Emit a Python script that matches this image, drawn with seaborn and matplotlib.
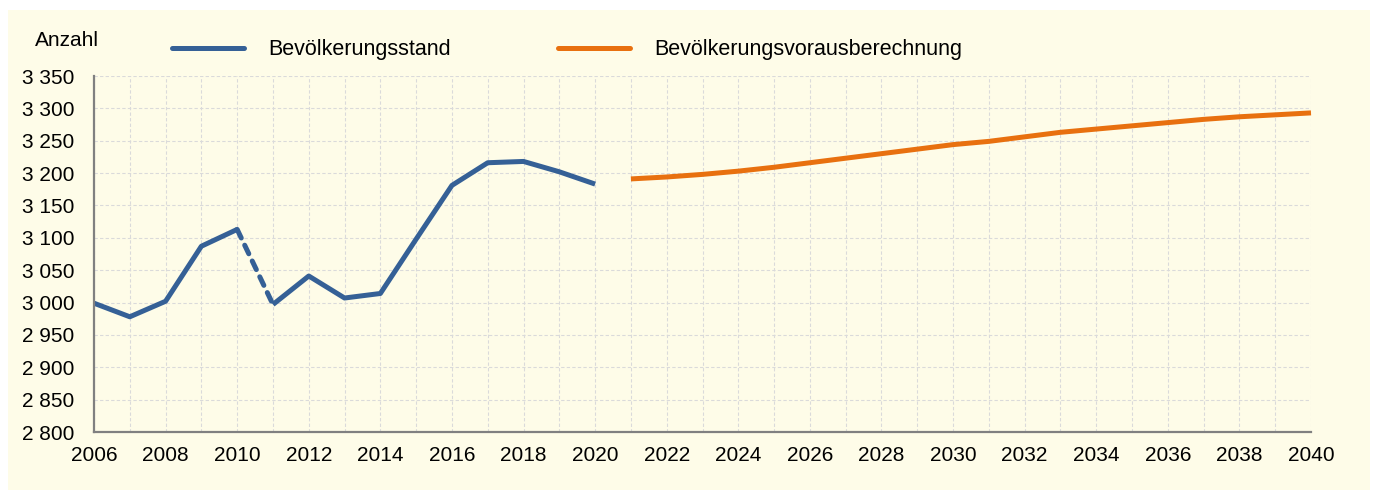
import matplotlib
matplotlib.use("Agg")
import matplotlib.pyplot as plt
import matplotlib.patches as mpatches
import seaborn as sns
import pandas as pd

# Bevölkerungsstand (Tausend), 2006-2020
jahre_stand = [2006, 2007, 2008, 2009, 2010, 2011, 2012, 2013, 2014, 2015,
               2016, 2017, 2018, 2019, 2020]
werte_stand = [2999, 2978, 3002, 3087, 3113, 2997, 3041, 3007, 3014, 3098,
               3181, 3216, 3218, 3202, 3183]

# Bevölkerungsvorausberechnung, 2021-2040
jahre_voraus = list(range(2021, 2041))
werte_voraus = [3191, 3194, 3198, 3203, 3209, 3216, 3223, 3230, 3237, 3244,
                3249, 3256, 3263, 3268, 3273, 3278, 3283, 3287, 3290, 3293]

y_ticks = [2800, 2850, 2900, 2950, 3000, 3050, 3100, 3150, 3200, 3250, 3300, 3350]
y_labels = ["2 800", "2 850", "2 900", "2 950", "3 000", "3 050", "3 100",
            "3 150", "3 200", "3 250", "3 300", "3 350"]
x_ticks = list(range(2006, 2041, 2))

label_stand = "Bevölkerungsstand"
label_voraus = "Bevölkerungsvorausberechnung"

BLAU = "#356096"
ORANGE = "#E8700F"
CREME = "#FEFCE8"

sns.set_theme(style="white")
plt.rcParams["font.family"] = ["Liberation Sans", "DejaVu Sans"]
plt.rcParams["text.color"] = "black"

stand = pd.DataFrame({"jahr": jahre_stand, "wert": werte_stand})
voraus = pd.DataFrame({"jahr": jahre_voraus, "wert": werte_voraus})

fig = plt.figure(figsize=(13.75, 4.9), dpi=100)
fig.patch.set_facecolor("white")
hintergrund = mpatches.Rectangle((8 / 1375, 0), 1362 / 1375, 480 / 490,
                                 transform=fig.transFigure, facecolor=CREME,
                                 edgecolor="none", zorder=-10)
fig.add_artist(hintergrund)

ax = fig.add_axes([94 / 1375, 58 / 490, 1217 / 1375, 356 / 490])
ax.set_facecolor("none")

lw = 3.6
# Zeitreihe mit Bruch 2010/2011 (gestrichelt)
teil1 = stand[stand["jahr"] <= 2010]
bruch = stand[(stand["jahr"] >= 2010) & (stand["jahr"] <= 2011)]
teil2 = stand[stand["jahr"] >= 2011]
sns.lineplot(data=teil1, x="jahr", y="wert", ax=ax, color=BLAU, linewidth=lw,
             label=label_stand, solid_capstyle="butt", clip_on=False)
sns.lineplot(data=bruch, x="jahr", y="wert", ax=ax, color=BLAU, linewidth=lw,
             clip_on=False)
ax.lines[-1].set_linestyle((0, (1.9, 1.6)))
ax.lines[-1].set_dash_capstyle("round")
sns.lineplot(data=teil2, x="jahr", y="wert", ax=ax, color=BLAU, linewidth=lw,
             solid_capstyle="butt", clip_on=False)
sns.lineplot(data=voraus, x="jahr", y="wert", ax=ax, color=ORANGE, linewidth=lw,
             label=label_voraus, solid_capstyle="butt", clip_on=False)

ax.set_xlim(2006, 2040)
ax.set_ylim(2800, 3350)
ax.set_xticks(x_ticks)
ax.set_xticklabels([str(j) for j in x_ticks])
ax.set_xticks(range(2006, 2041), minor=True)
ax.set_yticks(y_ticks)
ax.set_yticklabels(y_labels)
ax.set_xlabel("")
ax.set_ylabel("")

gitter = dict(color="#DADADA", linestyle=(0, (3, 2)), linewidth=0.8)
ax.grid(True, which="both", axis="x", **gitter)
ax.grid(True, which="major", axis="y", **gitter)
ax.set_axisbelow(True)

for s in ["top", "right"]:
    ax.spines[s].set_visible(False)
for s in ["left", "bottom"]:
    ax.spines[s].set_color("#808080")
    ax.spines[s].set_linewidth(1.6)

ax.tick_params(axis="both", which="both", direction="in", color="#808080",
               width=1.4, length=5, labelsize=15, labelcolor="black")
ax.tick_params(axis="y", pad=14)
ax.tick_params(axis="x", pad=10)

handles, labels = ax.get_legend_handles_labels()
leg = ax.legend(handles, labels, loc="center left", ncol=2,
                bbox_to_anchor=(172 / 1375, 1 - 50 / 490), bbox_transform=fig.transFigure,
                frameon=False, fontsize=15.5, handlelength=3.35, handletextpad=1.12,
                columnspacing=4.97, borderpad=0, borderaxespad=0, labelcolor="black")
for h in leg.get_lines():
    h.set_linewidth(lw)
    h.set_solid_capstyle("round")

fig.text(35 / 1375, 1 - 40 / 490, "Anzahl", fontsize=15, ha="left", va="center",
         color="black")

fig.savefig("out.png", dpi=100)
